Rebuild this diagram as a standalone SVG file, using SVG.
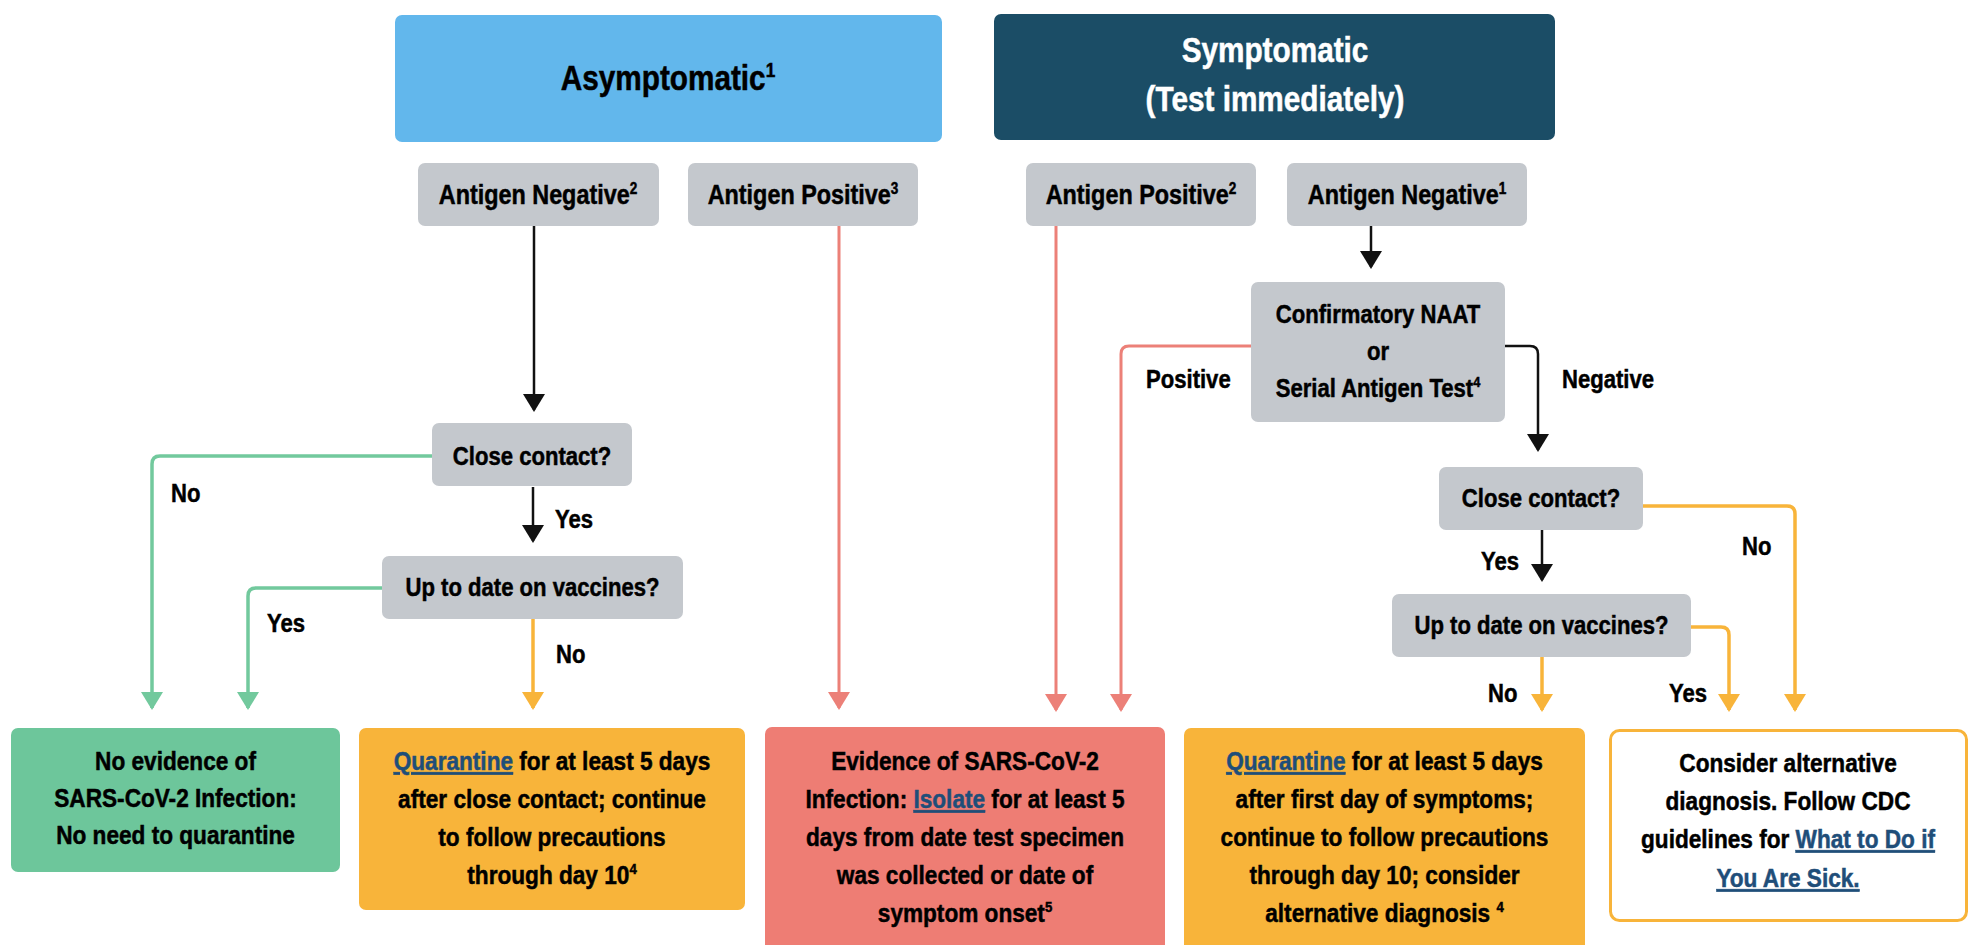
<svg xmlns="http://www.w3.org/2000/svg" width="1982" height="945" viewBox="0 0 1982 945">
<style>
.t{font-family:"Liberation Sans",Arial,sans-serif;font-weight:bold;fill:#000;stroke:#000;stroke-width:.5}
.c{text-anchor:middle}
.h{font-size:35px}
.a{font-size:27.5px}
.g{font-size:26px}
.b{font-size:26px}
.w{fill:#fff;stroke:#fff}
.lk{fill:#1f4e79;stroke:#1f4e79;text-decoration:underline}
.sup{font-size:58%}
.gray{fill:#c4c8cd}
.k{fill:none;stroke:#111;stroke-width:2.5}
.gr{fill:none;stroke:#72c99d;stroke-width:3.5}
.or{fill:none;stroke:#f8b43a;stroke-width:3.5}
.rd{fill:none;stroke:#ec8078;stroke-width:3}
</style>
<defs>
<marker id="mk" markerUnits="userSpaceOnUse" markerWidth="22" markerHeight="24" refX="16" refY="11" orient="auto"><path d="M0,0 L18,11 L0,22 z" fill="#111"/></marker>
<marker id="mg" markerUnits="userSpaceOnUse" markerWidth="22" markerHeight="24" refX="16" refY="11" orient="auto"><path d="M0,0 L18,11 L0,22 z" fill="#72c99d"/></marker>
<marker id="mo" markerUnits="userSpaceOnUse" markerWidth="22" markerHeight="24" refX="16" refY="11" orient="auto"><path d="M0,0 L18,11 L0,22 z" fill="#f8b43a"/></marker>
<marker id="mr" markerUnits="userSpaceOnUse" markerWidth="22" markerHeight="24" refX="16" refY="11" orient="auto"><path d="M0,0 L18,11 L0,22 z" fill="#ec8078"/></marker>
</defs>
<rect width="1982" height="945" fill="#fff"/>

<g id="connectors">
<path class="k" d="M534,226 V410" marker-end="url(#mk)"/>
<path class="gr" d="M432,456 H160 Q152,456 152,464 V708" marker-end="url(#mg)"/>
<path class="k" d="M533,487 V541" marker-end="url(#mk)"/>
<path class="gr" d="M382,588 H256 Q248,588 248,596 V708" marker-end="url(#mg)"/>
<path class="or" d="M533,619 V708" marker-end="url(#mo)"/>
<path class="rd" d="M839,226 V708" marker-end="url(#mr)"/>
<path class="rd" d="M1056,226 V710" marker-end="url(#mr)"/>
<path class="k" d="M1371,226 V267" marker-end="url(#mk)"/>
<path class="rd" d="M1251,346 H1129 Q1121,346 1121,354 V710" marker-end="url(#mr)"/>
<path class="k" d="M1505,346 H1530 Q1538,346 1538,354 V450" marker-end="url(#mk)"/>
<path class="or" d="M1643,506 H1787 Q1795,506 1795,514 V710" marker-end="url(#mo)"/>
<path class="k" d="M1542,530 V580" marker-end="url(#mk)"/>
<path class="or" d="M1691,627 H1721 Q1729,627 1729,635 V710" marker-end="url(#mo)"/>
<path class="or" d="M1542,657 V710" marker-end="url(#mo)"/>
<g class="t b">
<text transform="translate(171,502) scale(.85,1)">No</text>
<text transform="translate(555,528) scale(.85,1)">Yes</text>
<text transform="translate(267,632) scale(.85,1)">Yes</text>
<text transform="translate(556,663) scale(.85,1)">No</text>
<text transform="translate(1146,388) scale(.85,1)">Positive</text>
<text transform="translate(1562,388) scale(.85,1)">Negative</text>
<text transform="translate(1481,570) scale(.85,1)">Yes</text>
<text transform="translate(1742,555) scale(.85,1)">No</text>
<text transform="translate(1488,702) scale(.85,1)">No</text>
<text transform="translate(1669,702) scale(.85,1)">Yes</text>
</g>
</g>

<g id="asymptomatic">
<rect x="395" y="15" width="547" height="127" rx="7" fill="#62b7ec"/>
<text class="t c h" transform="translate(668,90) scale(.85,1)">Asymptomatic<tspan class="sup" dy="-13">1</tspan></text>
</g>
<g id="symptomatic">
<rect x="994" y="14" width="561" height="126" rx="7" fill="#1b4d66"/>
<text class="t c h w" transform="translate(1275,0) scale(.85,1)"><tspan x="0" y="62">Symptomatic</tspan><tspan x="0" y="111">(Test immediately)</tspan></text>
</g>

<g id="antigen-neg-left">
<rect class="gray" x="418" y="163" width="241" height="63" rx="7"/>
<text class="t c a" transform="translate(538,204) scale(.85,1)">Antigen Negative<tspan class="sup" dy="-10">2</tspan></text>
</g>
<g id="antigen-pos-left">
<rect class="gray" x="688" y="163" width="230" height="63" rx="7"/>
<text class="t c a" transform="translate(803,204) scale(.85,1)">Antigen Positive<tspan class="sup" dy="-10">3</tspan></text>
</g>
<g id="antigen-pos-right">
<rect class="gray" x="1026" y="163" width="230" height="63" rx="7"/>
<text class="t c a" transform="translate(1141,204) scale(.85,1)">Antigen Positive<tspan class="sup" dy="-10">2</tspan></text>
</g>
<g id="antigen-neg-right">
<rect class="gray" x="1287" y="163" width="240" height="63" rx="7"/>
<text class="t c a" transform="translate(1407,204) scale(.85,1)">Antigen Negative<tspan class="sup" dy="-10">1</tspan></text>
</g>

<g id="close-contact-left">
<rect class="gray" x="432" y="423" width="200" height="63" rx="7"/>
<text class="t c g" transform="translate(532,465) scale(.85,1)">Close contact?</text>
</g>
<g id="vaccines-left">
<rect class="gray" x="382" y="556" width="301" height="63" rx="7"/>
<text class="t c g" transform="translate(532.5,596) scale(.85,1)">Up to date on vaccines?</text>
</g>
<g id="confirmatory">
<rect class="gray" x="1251" y="282" width="254" height="140" rx="7"/>
<text class="t c g" transform="translate(1378,0) scale(.85,1)"><tspan x="0" y="323">Confirmatory NAAT</tspan><tspan x="0" y="360">or</tspan><tspan x="0" y="397">Serial Antigen Test<tspan class="sup" dy="-10">4</tspan></tspan></text>
</g>
<g id="close-contact-right">
<rect class="gray" x="1439" y="467" width="204" height="63" rx="7"/>
<text class="t c g" transform="translate(1541,507) scale(.85,1)">Close contact?</text>
</g>
<g id="vaccines-right">
<rect class="gray" x="1392" y="594" width="299" height="63" rx="7"/>
<text class="t c g" transform="translate(1541.5,634) scale(.85,1)">Up to date on vaccines?</text>
</g>

<g id="no-evidence">
<rect x="11" y="728" width="329" height="144" rx="7" fill="#6dc69b"/>
<text class="t c b" transform="translate(175.5,0) scale(.87,1)"><tspan x="0" y="770">No evidence of</tspan><tspan x="0" y="807">SARS-CoV-2 Infection:</tspan><tspan x="0" y="844">No need to quarantine</tspan></text>
</g>
<g id="quarantine-contact">
<rect x="359" y="728" width="386" height="182" rx="7" fill="#f8b43a"/>
<text class="t c b" transform="translate(552,0) scale(.87,1)"><tspan x="0" y="770"><tspan class="lk">Quarantine</tspan> for at least 5 days</tspan><tspan x="0" y="808">after close contact; continue</tspan><tspan x="0" y="846">to follow precautions</tspan><tspan x="0" y="884">through day 10<tspan class="sup" dy="-10">4</tspan></tspan></text>
</g>
<g id="isolate">
<rect x="765" y="727" width="400" height="240" rx="7" fill="#ee7d74"/>
<text class="t c b" transform="translate(965,0) scale(.87,1)"><tspan x="0" y="770">Evidence of SARS-CoV-2</tspan><tspan x="0" y="808">Infection: <tspan class="lk">Isolate</tspan> for at least 5</tspan><tspan x="0" y="846">days from date test specimen</tspan><tspan x="0" y="884">was collected or date of</tspan><tspan x="0" y="922">symptom onset<tspan class="sup" dy="-10">5</tspan></tspan></text>
</g>
<g id="quarantine-symptoms">
<rect x="1184" y="728" width="401" height="240" rx="7" fill="#f8b43a"/>
<text class="t c b" transform="translate(1384.5,0) scale(.87,1)"><tspan x="0" y="770"><tspan class="lk">Quarantine</tspan> for at least 5 days</tspan><tspan x="0" y="808">after first day of symptoms;</tspan><tspan x="0" y="846">continue to follow precautions</tspan><tspan x="0" y="884">through day 10; consider</tspan><tspan x="0" y="922">alternative diagnosis <tspan class="sup" dy="-10">4</tspan></tspan></text>
</g>
<g id="alternative">
<rect x="1610.5" y="730.5" width="356" height="190" rx="9" fill="#fff" stroke="#f8b43a" stroke-width="3"/>
<text class="t c b" transform="translate(1788,0) scale(.87,1)"><tspan x="0" y="772">Consider alternative</tspan><tspan x="0" y="810">diagnosis. Follow CDC</tspan><tspan x="0" y="848">guidelines for <tspan class="lk">What to Do if</tspan></tspan><tspan x="0" y="887" class="lk">You Are Sick.</tspan></text>
</g>
</svg>
